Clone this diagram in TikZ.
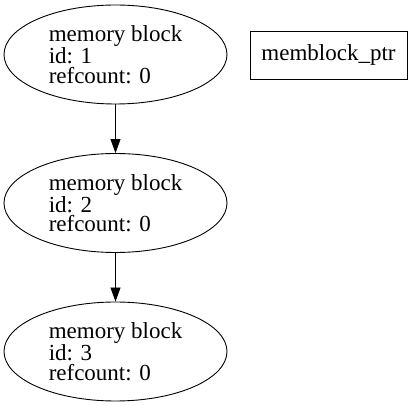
\documentclass[tikz,border=0pt]{standalone}
\usepackage{fontspec}
\setmainfont{Liberation Serif}
\usetikzlibrary{positioning}
\usetikzlibrary{shapes.geometric}
\usetikzlibrary{arrows.meta}

\begin{document}
\begin{tikzpicture}[x=1pt,y=-1pt,
				blocknode/.style={ellipse, draw=black, line width=0.9pt, minimum width=223pt, minimum height=99pt, inner sep=0pt, align=left, font=\fontsize{23}{19.5}\selectfont},
				ptrnode/.style={rectangle, draw=black, line width=0.9pt, minimum width=157pt, minimum height=48pt, inner sep=0pt, font=\fontsize{23}{19.5}\selectfont},
				link/.style={line width=0.9pt, -{Triangle[length=14pt,width=10pt]}},
				]
				\useasboundingbox (0,0) rectangle (413,406);
				%Nodes
				\node[blocknode]      (b1) 	at 	(115.5,54.5)      {memory block\\id: 1\\refcount: 0};
				\node[blocknode]      (b2) 	at 	(115.5,203)       {memory block\\id: 2\\refcount: 0};
				\node[blocknode]      (b3) 	at 	(115.5,351.5)     {memory block\\id: 3\\refcount: 0};
				\node[ptrnode]        (ptr) 	at 	(328.5,55)        {memblock\_ptr};
				
				%Lines
				\draw[link] (b1.south) -- (b2.north);
				\draw[link] (b2.south) -- (b3.north);
			\end{tikzpicture}
\end{document}
